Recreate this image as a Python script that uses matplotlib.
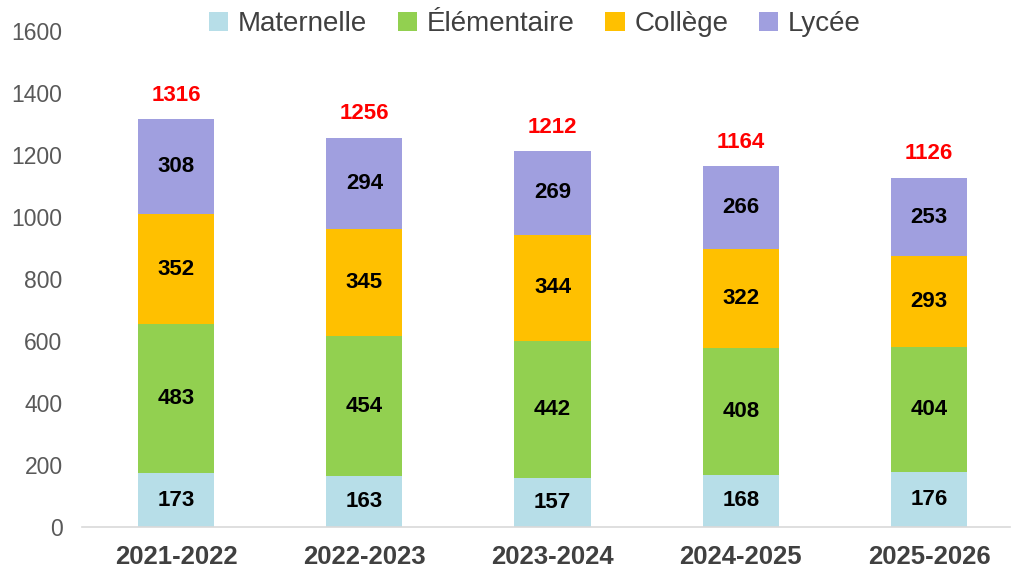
import numpy as np
import matplotlib.pyplot as plt

plt.rcParams['font.family'] = ['Liberation Sans', 'DejaVu Sans']

years = ['2021-2022', '2022-2023', '2023-2024', '2024-2025', '2025-2026']
maternelle = [173, 163, 157, 168, 176]
elementaire = [483, 454, 442, 408, 404]
college = [352, 345, 344, 322, 293]
lycee = [308, 294, 269, 266, 253]
totals = [1316, 1256, 1212, 1164, 1126]

series = [
    ('Maternelle', maternelle, '#B7DEE8'),
    ('Élémentaire', elementaire, '#92D050'),
    ('Collège', college, '#FFC000'),
    ('Lycée', lycee, '#A09FDF'),
]

fig = plt.figure(figsize=(10.13, 5.69), dpi=100)
ax = fig.add_axes([0.081, 0.074, 0.916, 0.8715])

x = np.arange(len(years))
bottom = np.zeros(len(years))
for name, vals, color in series:
    vals = np.array(vals)
    ax.bar(x, vals, width=0.405, bottom=bottom, color=color, label=name)
    for xi, b, v in zip(x, bottom, vals):
        ax.text(xi, b + v / 2, str(v), ha='center', va='center',
                fontsize=16, fontweight='bold', color='black')
    bottom = bottom + vals

for xi, top, t in zip(x, bottom, totals):
    ax.annotate(str(t), (xi, top), xytext=(0, 24), textcoords='offset pixels',
                ha='center', va='center', fontsize=16, fontweight='bold', color='#FF0000')

ax.set_ylim(0, 1600)
ax.set_yticks(range(0, 1601, 200))
ax.set_xlim(-0.5, len(years) - 0.57)
ax.set_xticks(x)
ax.set_xticklabels(years, fontsize=18.5, fontweight='bold', color='#404040')
ax.tick_params(axis='y', labelsize=16.5, labelcolor='#595959', length=0, pad=14)
ax.tick_params(axis='x', length=0, pad=13)
for s in ['top', 'right', 'left']:
    ax.spines[s].set_visible(False)
ax.spines['bottom'].set_color('#D9D9D9')
ax.spines['bottom'].set_linewidth(1.2)

fig.legend(loc='center', bbox_to_anchor=(0.528, 0.957), ncol=4, frameon=False,
           fontsize=20, handlelength=0.7, handleheight=0.7, handletextpad=0.35,
           columnspacing=1.1, labelcolor='#404040')

fig.savefig('out.png', dpi=100)
